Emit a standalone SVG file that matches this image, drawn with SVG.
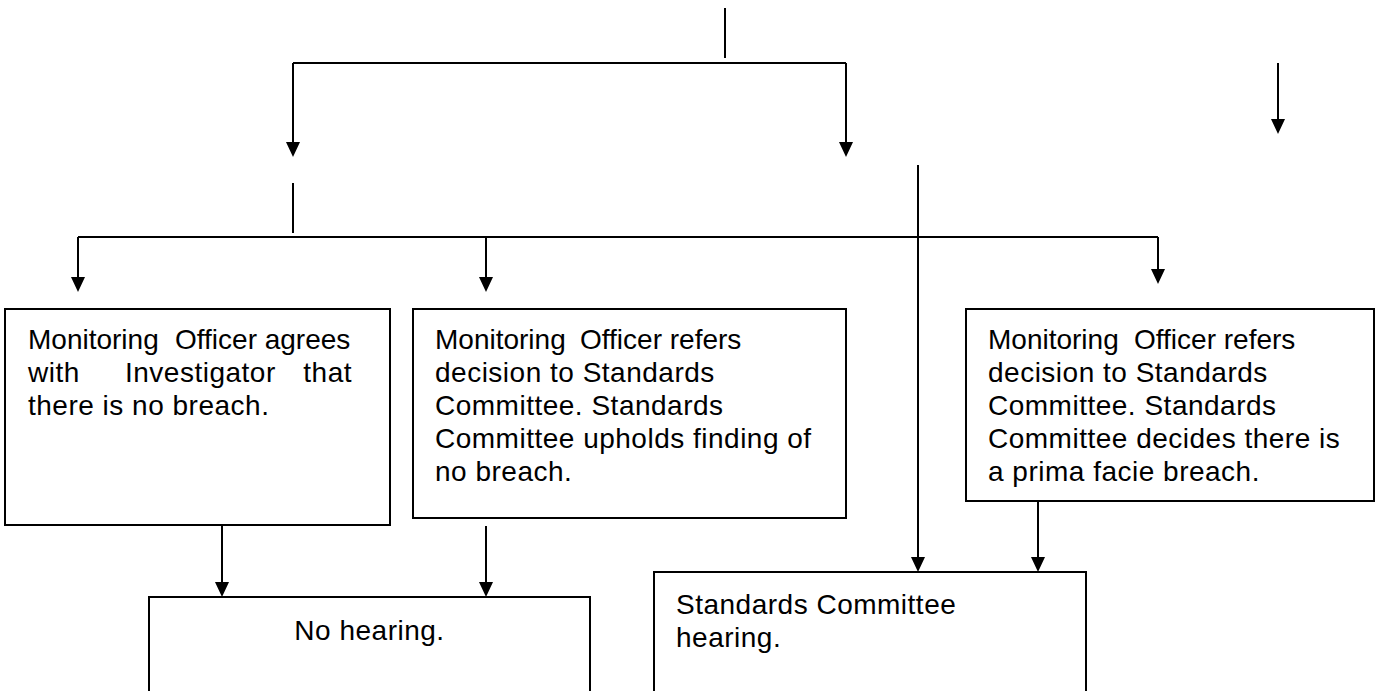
<svg xmlns="http://www.w3.org/2000/svg" width="1376" height="691" viewBox="0 0 1376 691">
<defs>
<style>
.box{fill:#fff;stroke:#000;stroke-width:2}
.ln{fill:none;stroke:#000;stroke-width:2}
.ah{fill:#000}
.t{font-family:"Liberation Sans",Arial,sans-serif;font-size:28px;letter-spacing:0.5px;fill:#000}
.t0{letter-spacing:0px}
</style>
</defs>
<rect width="1376" height="691" fill="#fff"/>
<g id="connectors">
<path class="ln" d="M725,8 V58"/>
<path class="ln" d="M293,63 H846"/>
<path class="ln" d="M293,63 V142"/>
<path class="ah" d="M286,142 H300 L293,157 Z"/>
<path class="ln" d="M846,63 V142"/>
<path class="ah" d="M839,142 H853 L846,157 Z"/>
<path class="ln" d="M1278,63 V119"/>
<path class="ah" d="M1271,119 H1285 L1278,134 Z"/>
<path class="ln" d="M293,183 V233"/>
<path class="ln" d="M78,237 H1158"/>
<path class="ln" d="M78,237 V277"/>
<path class="ah" d="M71,277 H85 L78,292 Z"/>
<path class="ln" d="M486,237 V277"/>
<path class="ah" d="M479,277 H493 L486,292 Z"/>
<path class="ln" d="M1158,237 V269"/>
<path class="ah" d="M1151,269 H1165 L1158,284 Z"/>
<path class="ln" d="M918,165 V557"/>
<path class="ah" d="M911,557 H925 L918,572 Z"/>
<path class="ln" d="M222,525 V582"/>
<path class="ah" d="M215,582 H229 L222,597 Z"/>
<path class="ln" d="M486,526 V582"/>
<path class="ah" d="M479,582 H493 L486,597 Z"/>
<path class="ln" d="M1038,501 V557"/>
<path class="ah" d="M1031,557 H1045 L1038,572 Z"/>
</g>
<g id="node-mo-agrees">
<rect class="box" x="5" y="309" width="385" height="216"/>
<text class="t t0" y="349"><tspan x="28">Monitoring</tspan><tspan x="175">Officer agrees</tspan></text>
<text class="t" y="382"><tspan x="28">with</tspan><tspan x="125">Investigator</tspan><tspan x="352" text-anchor="end">that</tspan></text>
<text class="t" x="28" y="415">there is no breach.</text>
</g>
<g id="node-mo-refers-upholds">
<rect class="box" x="413" y="309" width="433" height="209"/>
<text class="t t0" y="349"><tspan x="435">Monitoring</tspan><tspan x="580">Officer refers</tspan></text>
<text class="t" x="435" y="382">decision to Standards</text>
<text class="t" x="435" y="415">Committee. Standards</text>
<text class="t" x="435" y="448">Committee upholds finding of</text>
<text class="t" x="435" y="481">no breach.</text>
</g>
<g id="node-mo-refers-breach">
<rect class="box" x="966" y="309" width="408" height="192"/>
<text class="t t0" y="349"><tspan x="988">Monitoring</tspan><tspan x="1134">Officer refers</tspan></text>
<text class="t" x="988" y="382">decision to Standards</text>
<text class="t" x="988" y="415">Committee. Standards</text>
<text class="t" x="988" y="448">Committee decides there is</text>
<text class="t" x="988" y="481">a prima facie breach.</text>
</g>
<g id="node-no-hearing">
<rect class="box" x="149" y="597" width="441" height="110"/>
<text class="t" x="369.5" y="640" text-anchor="middle">No hearing.</text>
</g>
<g id="node-hearing">
<rect class="box" x="654" y="572" width="432" height="135"/>
<text class="t" x="676" y="614">Standards Committee</text>
<text class="t" x="676" y="647">hearing.</text>
</g>
</svg>
